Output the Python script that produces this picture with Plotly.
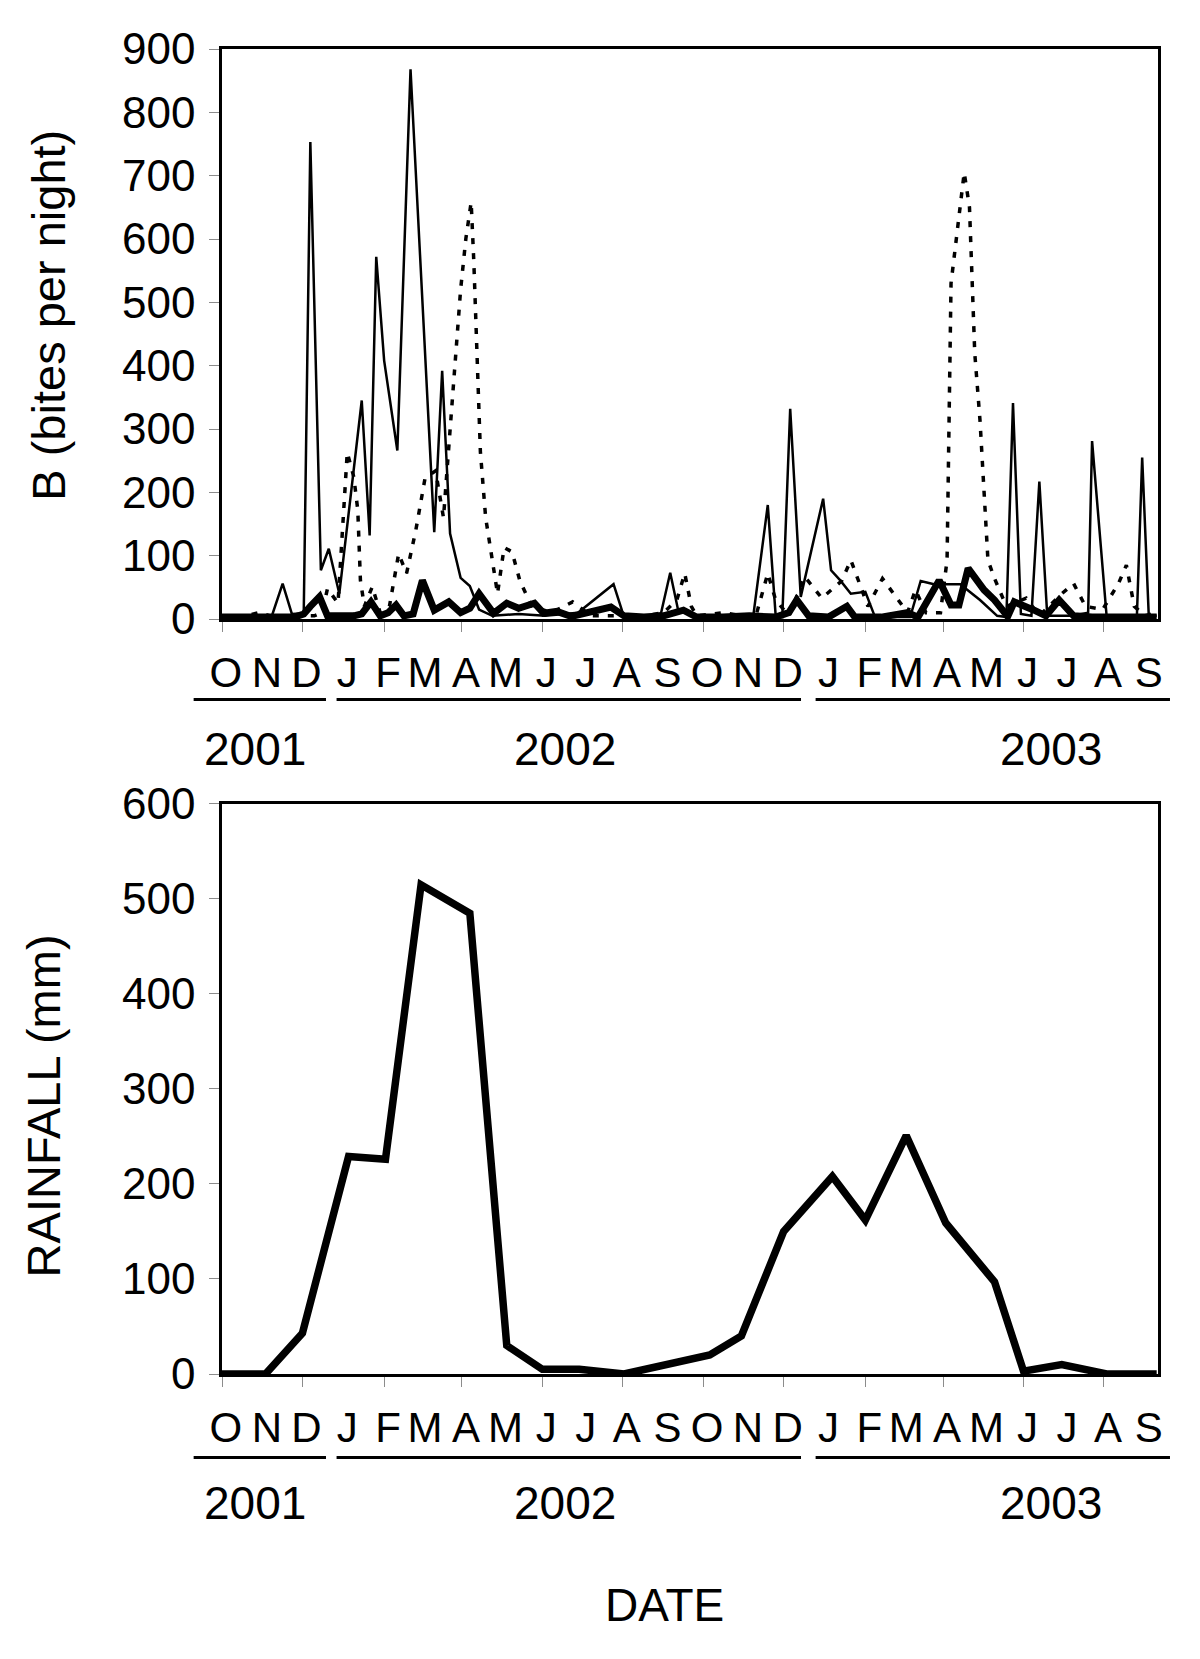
import plotly.graph_objects as go

# ---------------- DATA ----------------
month_letters = ["O", "N", "D", "J", "F", "M", "A", "M", "J", "J", "A", "S",
                 "O", "N", "D", "J", "F", "M", "A", "M", "J", "J", "A", "S"]
month_label_dates = ["2001-10-04", "2001-11-04", "2001-12-04", "2002-01-04", "2002-02-04", "2002-03-04",
                     "2002-04-04", "2002-05-04", "2002-06-04", "2002-07-04", "2002-08-04", "2002-09-04",
                     "2002-10-04", "2002-11-04", "2002-12-04", "2003-01-04", "2003-02-04", "2003-03-04",
                     "2003-04-04", "2003-05-04", "2003-06-04", "2003-07-04", "2003-08-04", "2003-09-04"]
years = ["2001", "2002", "2003"]

# thin solid series (bites per night)
thin_dates = ["2001-10-01", "2001-10-15", "2001-10-29", "2001-11-08", "2001-11-16", "2001-11-23",
              "2001-12-02", "2001-12-07", "2001-12-15", "2001-12-21", "2001-12-29", "2002-01-15",
              "2002-01-21", "2002-01-26", "2002-02-01", "2002-02-11", "2002-02-21", "2002-03-11",
              "2002-03-17", "2002-03-23", "2002-03-31", "2002-04-07", "2002-04-14", "2002-04-24",
              "2002-05-14", "2002-06-03", "2002-06-28", "2002-07-25", "2002-08-02", "2002-08-17",
              "2002-08-30", "2002-09-06", "2002-09-12", "2002-09-26", "2002-10-16", "2002-11-08",
              "2002-11-19", "2002-11-25", "2002-11-30", "2002-12-06", "2002-12-14", "2002-12-31",
              "2003-01-06", "2003-01-13", "2003-01-21", "2003-02-01", "2003-02-08", "2003-02-23",
              "2003-03-07", "2003-03-15", "2003-03-25", "2003-04-14", "2003-04-29", "2003-05-12",
              "2003-05-19", "2003-05-24", "2003-05-30", "2003-06-07", "2003-06-13", "2003-06-19",
              "2003-07-08", "2003-07-20", "2003-07-23", "2003-08-03", "2003-08-17", "2003-08-26",
              "2003-08-30", "2003-09-04", "2003-09-10"]
thin_vals = [5, 3, 5, 6, 56, 8,
             9, 753, 77, 111, 40, 345,
             132, 572, 408, 266, 868, 137,
             392, 135, 65, 52, 15, 5,
             8, 5, 10, 55, 3, 3,
             9, 73, 14, 3, 3, 5,
             180, 5, 3, 332, 35, 190,
             77, 61, 40, 43, 5, 3,
             3, 60, 55, 55, 30, 5,
             3, 341, 8, 5, 217, 5,
             5, 10, 281, 5, 5, 5,
             255, 5, 5]

# thick solid series
thick_dates = ["2001-10-01", "2001-10-21", "2001-11-10", "2001-11-25", "2001-12-02", "2001-12-07",
               "2001-12-14", "2001-12-20", "2002-01-09", "2002-01-15", "2002-01-22", "2002-01-29",
               "2002-02-04", "2002-02-10", "2002-02-16", "2002-02-23", "2002-03-02", "2002-03-11",
               "2002-03-17", "2002-03-22", "2002-03-31", "2002-04-07", "2002-04-14", "2002-04-25",
               "2002-05-05", "2002-05-14", "2002-05-26", "2002-06-02", "2002-06-12", "2002-06-23",
               "2002-07-23", "2002-08-02", "2002-08-17", "2002-09-01", "2002-09-16", "2002-09-26",
               "2002-10-16", "2002-11-05", "2002-11-25", "2002-12-05", "2002-12-11", "2002-12-20",
               "2003-01-04", "2003-01-18", "2003-01-24", "2003-02-13", "2003-03-05", "2003-03-13",
               "2003-03-29", "2003-04-07", "2003-04-13", "2003-04-20", "2003-05-02", "2003-05-10",
               "2003-05-20", "2003-05-25", "2003-06-09", "2003-06-18", "2003-06-28", "2003-07-09",
               "2003-07-23", "2003-08-12", "2003-09-10"]
thick_vals = [3, 2, 3, 3, 8, 20,
              35, 5, 5, 8, 27, 5,
              10, 22, 5, 8, 61, 14,
              22, 27, 10, 17, 40, 9,
              25, 17, 25, 9, 12, 4,
              19, 5, 3, 5, 14, 3,
              3, 5, 3, 10, 30, 5,
              3, 20, 3, 3, 10, 3,
              61, 22, 22, 80, 46, 30,
              4, 27, 14, 5, 30, 5,
              3, 3, 3]

# dotted series
dot_dates = ["2001-10-01", "2001-10-15", "2001-10-29", "2001-11-10", "2001-11-25", "2001-12-10",
             "2001-12-16", "2001-12-20", "2001-12-28", "2001-12-31", "2002-01-04", "2002-01-09",
             "2002-01-12", "2002-01-14", "2002-01-17", "2002-01-23", "2002-01-29", "2002-02-05",
             "2002-02-12", "2002-02-18", "2002-02-25", "2002-03-04", "2002-03-12", "2002-03-18",
             "2002-03-25", "2002-03-31", "2002-04-04", "2002-04-08", "2002-04-10", "2002-04-13",
             "2002-04-15", "2002-04-19", "2002-04-24", "2002-04-28", "2002-05-03", "2002-05-09",
             "2002-05-15", "2002-05-24", "2002-06-08", "2002-06-24", "2002-07-08", "2002-07-29",
             "2002-08-18", "2002-09-01", "2002-09-11", "2002-09-17", "2002-09-22", "2002-09-26",
             "2002-10-16", "2002-10-31", "2002-11-10", "2002-11-19", "2002-11-25", "2002-12-05",
             "2002-12-17", "2002-12-30", "2003-01-14", "2003-01-21", "2003-01-27", "2003-02-03",
             "2003-02-14", "2003-02-26", "2003-03-05", "2003-03-11", "2003-03-19", "2003-03-30",
             "2003-04-04", "2003-04-07", "2003-04-13", "2003-04-17", "2003-04-21", "2003-04-25",
             "2003-04-29", "2003-05-05", "2003-05-10", "2003-05-19", "2003-06-03", "2003-06-13",
             "2003-06-30", "2003-07-09", "2003-07-18", "2003-07-31", "2003-08-12", "2003-08-18",
             "2003-08-24", "2003-09-01", "2003-09-10"]
dot_vals = [5, 3, 10, 3, 5, 5,
            10, 48, 25, 124, 263, 224,
            172, 61, 20, 51, 10, 20,
            103, 72, 140, 222, 234, 160,
            354, 520, 601, 658, 565, 384,
            264, 160, 95, 40, 113, 106,
            60, 20, 10, 27, 5, 5,
            5, 10, 30, 72, 20, 5,
            10, 5, 5, 72, 30, 5,
            67, 33, 60, 93, 60, 20,
            64, 30, 10, 46, 10, 10,
            93, 530, 640, 705, 650, 420,
            313, 93, 64, 20, 33, 5,
            40, 56, 20, 15, 56, 85,
            20, 5, 10]

# rainfall (mm)
rain_dates = ["2001-10-01", "2001-11-03", "2001-12-01", "2002-01-05", "2002-02-02", "2002-03-01",
              "2002-04-07", "2002-05-05", "2002-06-01", "2002-06-29", "2002-08-02", "2002-10-06",
              "2002-10-30", "2002-12-01", "2003-01-07", "2003-02-01", "2003-03-04", "2003-04-03",
              "2003-05-10", "2003-06-01", "2003-06-30", "2003-08-03", "2003-09-10"]
rain_vals = [0, 0, 43, 229, 226, 515,
             485, 30, 5, 5, 0, 20,
             40, 150, 208, 162, 251, 159,
             97, 3, 10, 0, 0]

x_range = ["2001-10-01", "2003-09-11"]

# ---------------- FIGURE ----------------
FONT = "Arial, 'Liberation Sans', sans-serif"
fig = go.Figure()

fig.add_trace(go.Scatter(x=thin_dates, y=thin_vals, mode="lines",
                         line=dict(color="black", width=2.5), xaxis="x", yaxis="y"))
fig.add_trace(go.Scatter(x=dot_dates, y=dot_vals, mode="lines",
                         line=dict(color="black", width=3.5, dash="6px,9px"), xaxis="x", yaxis="y"))
fig.add_trace(go.Scatter(x=thick_dates, y=thick_vals, mode="lines",
                         line=dict(color="black", width=7), xaxis="x", yaxis="y"))
fig.add_trace(go.Scatter(x=rain_dates, y=rain_vals, mode="lines",
                         line=dict(color="black", width=7.5), xaxis="x2", yaxis="y2"))

xcommon = dict(type="date", range=x_range, showgrid=False, zeroline=False,
               showline=True, linecolor="black", linewidth=2.5, mirror=True,
               tickmode="array", tickvals=month_label_dates, ticktext=month_letters,
               ticks="", ticklabelstandoff=15,
               tickfont=dict(family=FONT, size=42, color="black"),
               minor=dict(ticks="outside", ticklen=10, tickwidth=1, tickcolor="#8c8c8c",
                          tick0="2001-10-01", dtick="M2"))
ycommon = dict(showgrid=False, zeroline=False, showline=True, linecolor="black",
               linewidth=2.5, mirror=True, ticks="outside", ticklen=10, tickwidth=1,
               tickcolor="#8c8c8c", tickfont=dict(family=FONT, size=44, color="black"),
               ticklabelstandoff=5)

top_dom = [0.5698, 1.0]
bot_dom = [0.0, 0.4302]

fig.update_layout(
    width=1200, height=1659,
    margin=dict(l=222, r=42, t=49, b=285),
    plot_bgcolor="white", paper_bgcolor="white",
    showlegend=False,
    xaxis=dict(anchor="y", domain=[0, 1], **xcommon),
    yaxis=dict(anchor="x", domain=top_dom, range=[0, 900], tickvals=[0, 100, 200, 300, 400, 500, 600, 700, 800, 900], **ycommon),
    xaxis2=dict(anchor="y2", domain=[0, 1], **xcommon),
    yaxis2=dict(anchor="x2", domain=bot_dom, range=[0, 600], tickvals=[0, 100, 200, 300, 400, 500, 600], **ycommon),
)

ann = []
year_x = [0.0353, 0.3665, 0.8857]
for yy in [0.4717, -0.0974]:
    for txt, xx in zip(years, year_x):
        ann.append(dict(text=txt, x=xx, y=yy, xref="paper", yref="paper", showarrow=False,
                        xanchor="center", yanchor="middle", font=dict(family=FONT, size=46, color="black")))
ann.append(dict(text="DATE", x=0.4729, y=-0.1743, xref="paper", yref="paper", showarrow=False,
                xanchor="center", yanchor="middle", font=dict(family=FONT, size=46, color="black")))
ann.append(dict(text="B (bites per night)", x=-0.1863, y=0.7992, xref="paper", yref="paper",
                showarrow=False, textangle=-90, xanchor="center", yanchor="middle",
                font=dict(family=FONT, size=47, color="black")))
ann.append(dict(text="RAINFALL (mm)", x=-0.1897, y=0.2023, xref="paper", yref="paper",
                showarrow=False, textangle=-90, xanchor="center", yanchor="middle",
                font=dict(family=FONT, size=47, color="black")))
fig.update_layout(annotations=ann)

shapes = []
seg = [(-0.0303, 0.1111), (0.1224, 0.6186), (0.6342, 1.0128)]
for yy in [0.5091, -0.0630]:
    for x0, x1 in seg:
        shapes.append(dict(type="line", xref="paper", yref="paper", x0=x0, x1=x1, y0=yy, y1=yy,
                           line=dict(color="black", width=3)))
fig.update_layout(shapes=shapes)

fig.write_html("out.html", config={"displayModeBar": False},
               post_script="document.body.style.margin='0px';")
